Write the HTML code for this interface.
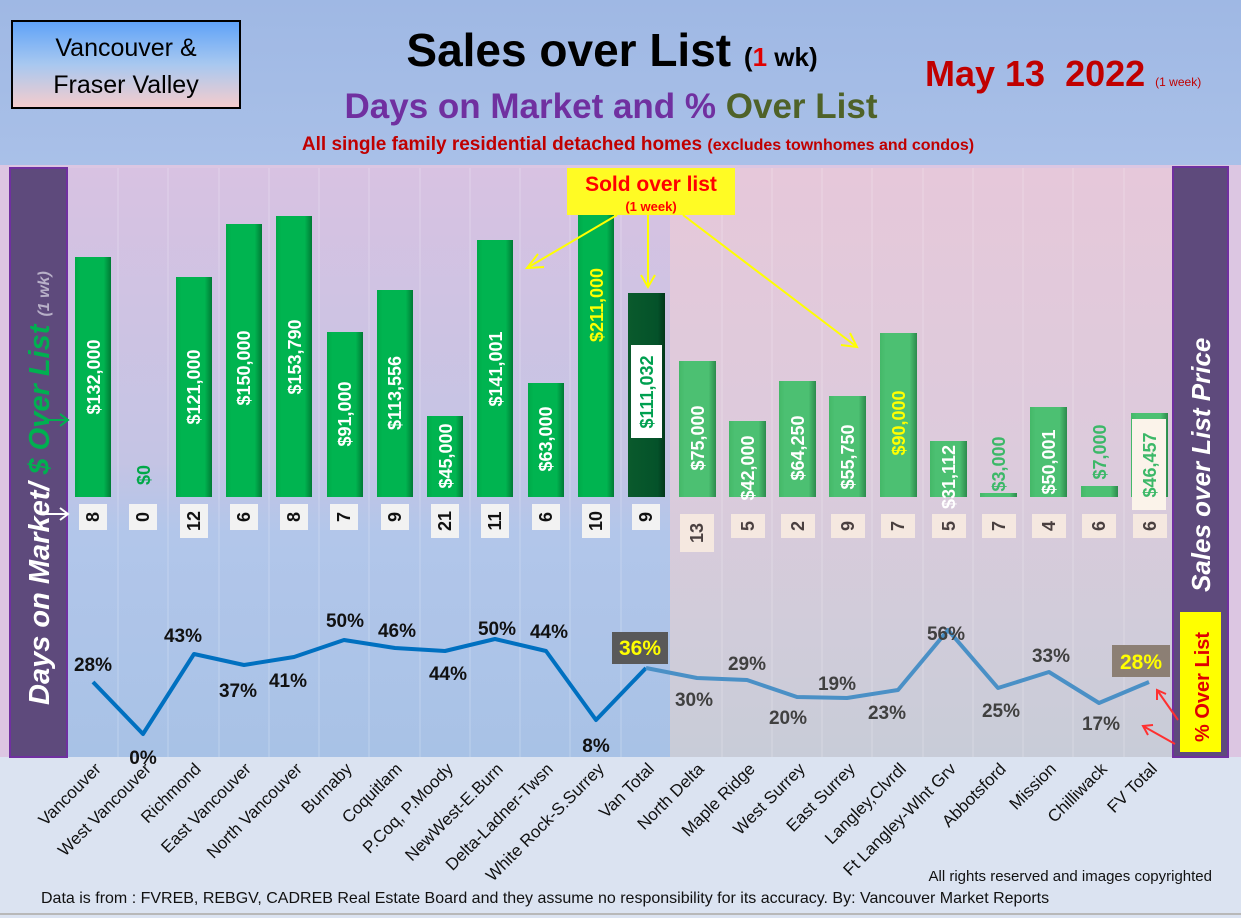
<!DOCTYPE html>
<html><head><meta charset="utf-8"><style>
html,body{margin:0;padding:0;width:1241px;height:918px;overflow:hidden;background:#dbe3f1}
svg{display:block}
</style></head><body>
<svg width="1241" height="918" viewBox="0 0 1241 918" xmlns="http://www.w3.org/2000/svg" font-family="'Liberation Sans', sans-serif">
<defs>
<linearGradient id="hdr" x1="0" y1="0" x2="0" y2="1"><stop offset="0" stop-color="#9fb8e4"/><stop offset="1" stop-color="#a9c0e8"/></linearGradient>
<linearGradient id="box" x1="0" y1="0" x2="0" y2="1"><stop offset="0" stop-color="#5ea2f8"/><stop offset="0.5" stop-color="#a8c8f0"/><stop offset="1" stop-color="#f6cccc"/></linearGradient>
<linearGradient id="lbg" x1="0" y1="0" x2="0" y2="1"><stop offset="0" stop-color="#d8c2e2"/><stop offset="0.5" stop-color="#c4c4e4"/><stop offset="0.62" stop-color="#b2c6ea"/><stop offset="1" stop-color="#a8c2e6"/></linearGradient>
<linearGradient id="rbg" x1="0" y1="0" x2="0" y2="1"><stop offset="0" stop-color="#e6c8da"/><stop offset="0.5" stop-color="#dccbdc"/><stop offset="1" stop-color="#c8ccd8"/></linearGradient>
<linearGradient id="gL" x1="0" y1="0" x2="1" y2="0"><stop offset="0" stop-color="#00a848"/><stop offset="0.15" stop-color="#00b450"/><stop offset="0.8" stop-color="#00b450"/><stop offset="1" stop-color="#007a34"/></linearGradient>
<linearGradient id="gR" x1="0" y1="0" x2="1" y2="0"><stop offset="0" stop-color="#44b868"/><stop offset="0.15" stop-color="#4cc072"/><stop offset="0.8" stop-color="#4cc072"/><stop offset="1" stop-color="#2c8a4c"/></linearGradient>
<linearGradient id="gD" x1="0" y1="0" x2="1" y2="0"><stop offset="0" stop-color="#0a5a2c"/><stop offset="0.8" stop-color="#04522a"/><stop offset="1" stop-color="#01361a"/></linearGradient>
</defs>
<rect x="0" y="0" width="1241" height="165" fill="url(#hdr)"/>
<rect x="0" y="165" width="1241" height="595" fill="#dcc6e2"/>
<rect x="0" y="757" width="1241" height="161" fill="#dbe3f1"/>
<line x1="0" y1="914" x2="1241" y2="914" stroke="#b8b8b8" stroke-width="2"/>
<rect x="68" y="168" width="602" height="589" fill="url(#lbg)"/>
<rect x="670" y="168" width="503" height="589" fill="url(#rbg)"/>
<g stroke="#ffffff" stroke-opacity="0.25" stroke-width="1">
<line x1="118" y1="168" x2="118" y2="757"/><line x1="168" y1="168" x2="168" y2="757"/><line x1="219" y1="168" x2="219" y2="757"/><line x1="269" y1="168" x2="269" y2="757"/><line x1="319" y1="168" x2="319" y2="757"/><line x1="369" y1="168" x2="369" y2="757"/><line x1="420" y1="168" x2="420" y2="757"/><line x1="470" y1="168" x2="470" y2="757"/><line x1="520" y1="168" x2="520" y2="757"/><line x1="570" y1="168" x2="570" y2="757"/><line x1="621" y1="168" x2="621" y2="757"/><line x1="722" y1="168" x2="722" y2="757"/><line x1="772" y1="168" x2="772" y2="757"/><line x1="822" y1="168" x2="822" y2="757"/><line x1="872" y1="168" x2="872" y2="757"/><line x1="923" y1="168" x2="923" y2="757"/><line x1="973" y1="168" x2="973" y2="757"/><line x1="1023" y1="168" x2="1023" y2="757"/><line x1="1073" y1="168" x2="1073" y2="757"/><line x1="1124" y1="168" x2="1124" y2="757"/>
</g>
<rect x="12" y="21" width="228" height="87" fill="url(#box)" stroke="#000" stroke-width="2"/>
<text x="126" y="56" font-size="25" text-anchor="middle" fill="#000">Vancouver &amp;</text>
<text x="126" y="93" font-size="25" text-anchor="middle" fill="#000">Fraser Valley</text>
<text x="612" y="66" font-size="46" font-weight="bold" text-anchor="middle" fill="#000">Sales over List <tspan font-size="26">(<tspan fill="#e00000">1</tspan> wk)</tspan></text>
<text x="611" y="118" font-size="35" font-weight="bold" text-anchor="middle" fill="#7030a0">Days on Market and % <tspan fill="#4f6228">Over List</tspan></text>
<text x="638" y="150" font-size="19" font-weight="bold" text-anchor="middle" fill="#c00000">All single family residential detached homes <tspan font-size="16">(excludes townhomes and condos)</tspan></text>
<text x="925" y="86" font-size="36" font-weight="bold" fill="#c00000" style="white-space:pre">May 13  2022 <tspan font-size="12" font-weight="normal">(1 week)</tspan></text>
<rect x="10" y="168" width="57" height="589" fill="#5e4a7c" stroke="#7030a0" stroke-width="2"/>
<g transform="translate(49,490) rotate(-90)"><text x="-215" y="0" font-size="29" font-weight="bold" font-style="italic" fill="#fff">Days on Market/ <tspan fill="#00b050">$ Over List</tspan> <tspan font-size="16" fill="#b8b0c8">(1 wk)</tspan></text></g>
<rect x="1173" y="167" width="55" height="590" fill="#5e4a7c" stroke="#7030a0" stroke-width="2"/>
<text transform="translate(1210,592) rotate(-90)" font-size="26" font-weight="bold" font-style="italic" fill="#fff">Sales over List Price</text>
<rect x="1180" y="612" width="41" height="140" fill="#ffff00"/>
<text transform="translate(1209,742) rotate(-90)" font-size="20" font-weight="bold" fill="#e00000">% Over List</text>
<g>
<rect x="75" y="257" width="36" height="240" fill="url(#gL)"/>
<rect x="176" y="277" width="36" height="220" fill="url(#gL)"/>
<rect x="226" y="224" width="36" height="273" fill="url(#gL)"/>
<rect x="276" y="216" width="36" height="281" fill="url(#gL)"/>
<rect x="327" y="332" width="36" height="165" fill="url(#gL)"/>
<rect x="377" y="290" width="36" height="207" fill="url(#gL)"/>
<rect x="427" y="416" width="36" height="81" fill="url(#gL)"/>
<rect x="477" y="240" width="36" height="257" fill="url(#gL)"/>
<rect x="528" y="383" width="36" height="114" fill="url(#gL)"/>
<rect x="578" y="168" width="36" height="329" fill="url(#gL)"/>
<rect x="628" y="293" width="37" height="204" fill="url(#gD)"/>
<rect x="679" y="361" width="37" height="136" fill="url(#gR)"/>
<rect x="729" y="421" width="37" height="76" fill="url(#gR)"/>
<rect x="779" y="381" width="37" height="116" fill="url(#gR)"/>
<rect x="829" y="396" width="37" height="101" fill="url(#gR)"/>
<rect x="880" y="333" width="37" height="164" fill="url(#gR)"/>
<rect x="930" y="441" width="37" height="56" fill="url(#gR)"/>
<rect x="980" y="493" width="37" height="4" fill="url(#gR)"/>
<rect x="1030" y="407" width="37" height="90" fill="url(#gR)"/>
<rect x="1081" y="486" width="37" height="11" fill="url(#gR)"/>
<rect x="1131" y="413" width="37" height="84" fill="url(#gR)"/>
<rect x="631" y="345" width="31" height="93" fill="#fff"/>
<rect x="1132" y="419" width="34" height="91" fill="#fbf3ea"/>
</g>
<g font-size="18" font-weight="bold" text-anchor="middle" fill="#fff">
<text transform="translate(100,377) rotate(-90)">$132,000</text>
<text transform="translate(150,475) rotate(-90)" fill="#00a848">$0</text>
<text transform="translate(200,387) rotate(-90)">$121,000</text>
<text transform="translate(250,368) rotate(-90)">$150,000</text>
<text transform="translate(301,357) rotate(-90)">$153,790</text>
<text transform="translate(351,414) rotate(-90)">$91,000</text>
<text transform="translate(401,393) rotate(-90)">$113,556</text>
<text transform="translate(452,456) rotate(-90)">$45,000</text>
<text transform="translate(502,369) rotate(-90)">$141,001</text>
<text transform="translate(552,439) rotate(-90)">$63,000</text>
<text transform="translate(603,305) rotate(-90)" fill="#ffff00">$211,000</text>
<text transform="translate(653,392) rotate(-90)" fill="#00a050">$111,032</text>
<text transform="translate(704,438) rotate(-90)">$75,000</text>
<text transform="translate(754,468) rotate(-90)">$42,000</text>
<text transform="translate(804,448) rotate(-90)">$64,250</text>
<text transform="translate(854,457) rotate(-90)">$55,750</text>
<text transform="translate(905,423) rotate(-90)" fill="#ffff00">$90,000</text>
<text transform="translate(955,477) rotate(-90)">$31,112</text>
<text transform="translate(1005,464) rotate(-90)" fill="#3cb868">$3,000</text>
<text transform="translate(1055,462) rotate(-90)">$50,001</text>
<text transform="translate(1106,452) rotate(-90)" fill="#3cb868">$7,000</text>
<text transform="translate(1156,465) rotate(-90)" fill="#3cb868">$46,457</text>
</g>
<g fill="#f2f2f2">
<rect x="79" y="504" width="28" height="26"/><rect x="129" y="504" width="28" height="26"/><rect x="180" y="504" width="28" height="34"/><rect x="230" y="504" width="28" height="26"/><rect x="280" y="504" width="28" height="26"/><rect x="330" y="504" width="28" height="26"/><rect x="381" y="504" width="28" height="26"/><rect x="431" y="504" width="28" height="34"/><rect x="481" y="504" width="28" height="34"/><rect x="532" y="504" width="28" height="26"/><rect x="582" y="504" width="28" height="34"/><rect x="632" y="504" width="28" height="26"/>
</g>
<g fill="#f5e8e0">
<rect x="680" y="514" width="34" height="38"/><rect x="731" y="514" width="34" height="24"/><rect x="781" y="514" width="34" height="24"/><rect x="831" y="514" width="34" height="24"/><rect x="881" y="514" width="34" height="24"/><rect x="932" y="514" width="34" height="24"/><rect x="982" y="514" width="34" height="24"/><rect x="1032" y="514" width="34" height="24"/><rect x="1082" y="514" width="34" height="24"/><rect x="1133" y="514" width="34" height="24"/>
</g>
<g font-size="18" font-weight="bold" text-anchor="middle" fill="#111">
<text transform="translate(99,517) rotate(-90)">8</text>
<text transform="translate(149,517) rotate(-90)">0</text>
<text transform="translate(200,521) rotate(-90)">12</text>
<text transform="translate(250,517) rotate(-90)">6</text>
<text transform="translate(300,517) rotate(-90)">8</text>
<text transform="translate(350,517) rotate(-90)">7</text>
<text transform="translate(401,517) rotate(-90)">9</text>
<text transform="translate(451,521) rotate(-90)">21</text>
<text transform="translate(501,521) rotate(-90)">11</text>
<text transform="translate(552,517) rotate(-90)">6</text>
<text transform="translate(602,521) rotate(-90)">10</text>
<text transform="translate(652,517) rotate(-90)">9</text>
<g fill="#4a4040">
<text transform="translate(703,533) rotate(-90)">13</text>
<text transform="translate(754,526) rotate(-90)">5</text>
<text transform="translate(804,526) rotate(-90)">2</text>
<text transform="translate(854,526) rotate(-90)">9</text>
<text transform="translate(904,526) rotate(-90)">7</text>
<text transform="translate(955,526) rotate(-90)">5</text>
<text transform="translate(1005,526) rotate(-90)">7</text>
<text transform="translate(1055,526) rotate(-90)">4</text>
<text transform="translate(1105,526) rotate(-90)">6</text>
<text transform="translate(1156,526) rotate(-90)">6</text>
</g></g>
<polyline points="93,682 143,734 194,654 244,665 294,657 344,640 395,648 445,651 495,639 546,651 596,720 646,668" fill="none" stroke="#0070c0" stroke-width="4" stroke-linejoin="round"/>
<polyline points="646,668 697,678 747,680 797,697 847,698 898,690 948,630 998,688 1049,672 1099,703 1149,682" fill="none" stroke="#4a90c6" stroke-width="4" stroke-linejoin="round"/>
<g font-size="19" font-weight="bold" text-anchor="middle" fill="#111">
<text x="93" y="671">28%</text><text x="143" y="764">0%</text><text x="183" y="642">43%</text><text x="238" y="697">37%</text><text x="288" y="687">41%</text><text x="345" y="627">50%</text><text x="397" y="637">46%</text><text x="448" y="680">44%</text><text x="497" y="635">50%</text><text x="549" y="638">44%</text><text x="596" y="752">8%</text>
<g fill="#404040"><text x="694" y="706">30%</text><text x="747" y="670">29%</text><text x="788" y="724">20%</text><text x="837" y="690">19%</text><text x="887" y="719">23%</text><text x="946" y="640">56%</text><text x="1001" y="717">25%</text><text x="1051" y="662">33%</text><text x="1101" y="730">17%</text></g>
</g>
<rect x="612" y="632" width="56" height="32" fill="#595959"/>
<text x="640" y="655" font-size="21" font-weight="bold" text-anchor="middle" fill="#ffff00">36%</text>
<rect x="1112" y="645" width="58" height="32" fill="#8c7f74"/>
<text x="1141" y="669" font-size="21" font-weight="bold" text-anchor="middle" fill="#ffff00">28%</text>
<rect x="567" y="168" width="168" height="47" fill="#ffff00"/>
<rect x="567" y="168" width="168" height="47" fill="#fff176" opacity="0.3"/>
<text x="651" y="191" font-size="21" font-weight="bold" text-anchor="middle" fill="#ff0000">Sold over list</text>
<text x="651" y="211" font-size="13" font-weight="bold" text-anchor="middle" fill="#ff0000">(1 week)</text>
<g stroke="#ffff00" stroke-width="2" fill="none">
<line x1="617" y1="215" x2="527" y2="268"/><polyline points="538,254 527,268 544,267"/>
<line x1="648" y1="215" x2="648" y2="287"/><polyline points="641,275 648,287 655,275"/>
<line x1="683" y1="215" x2="857" y2="347"/><polyline points="841,345 857,347 850,333"/>
</g>
<g stroke="#00b050" stroke-width="2" fill="none"><line x1="44" y1="420" x2="68" y2="420"/><polyline points="60,414 68,420 60,426"/></g>
<g stroke="#fff" stroke-width="2" fill="none"><line x1="44" y1="514" x2="68" y2="514"/><polyline points="60,508 68,514 60,520"/></g>
<g stroke="#ff3030" stroke-width="2" fill="none"><line x1="1178" y1="720" x2="1157" y2="690"/><polyline points="1157,700 1157,690 1166,694"/><line x1="1175" y1="744" x2="1143" y2="726"/><polyline points="1148,735 1143,726 1153,725"/></g>
<g font-size="17" text-anchor="end" fill="#111">
<text transform="translate(102,770) rotate(-45)">Vancouver</text>
<text transform="translate(152,770) rotate(-45)">West Vancouver</text>
<text transform="translate(202,770) rotate(-45)">Richmond</text>
<text transform="translate(252,770) rotate(-45)">East Vancouver</text>
<text transform="translate(303,770) rotate(-45)">North Vancouver</text>
<text transform="translate(353,770) rotate(-45)">Burnaby</text>
<text transform="translate(403,770) rotate(-45)">Coquitlam</text>
<text transform="translate(454,770) rotate(-45)">P.Coq, P.Moody</text>
<text transform="translate(504,770) rotate(-45)">NewWest-E.Burn</text>
<text transform="translate(554,770) rotate(-45)">Delta-Ladner-Twsn</text>
<text transform="translate(605,770) rotate(-45)">White Rock-S.Surrey</text>
<text transform="translate(655,770) rotate(-45)">Van Total</text>
<text transform="translate(705,770) rotate(-45)">North Delta</text>
<text transform="translate(756,770) rotate(-45)">Maple Ridge</text>
<text transform="translate(806,770) rotate(-45)">West Surrey</text>
<text transform="translate(856,770) rotate(-45)">East Surrey</text>
<text transform="translate(907,770) rotate(-45)">Langley,Clvrdl</text>
<text transform="translate(957,770) rotate(-45)">Ft Langley-Wlnt Grv</text>
<text transform="translate(1007,770) rotate(-45)">Abbotsford</text>
<text transform="translate(1057,770) rotate(-45)">Mission</text>
<text transform="translate(1108,770) rotate(-45)">Chilliwack</text>
<text transform="translate(1158,770) rotate(-45)">FV Total</text>
</g>
<text x="1212" y="881" font-size="15" text-anchor="end" fill="#111">All rights reserved and  images copyrighted</text>
<text x="41" y="903" font-size="16" fill="#111">Data is from : FVREB, REBGV, CADREB Real Estate Board and they assume no responsibility for its accuracy. By: Vancouver Market Reports</text>
</svg>
</body></html>
